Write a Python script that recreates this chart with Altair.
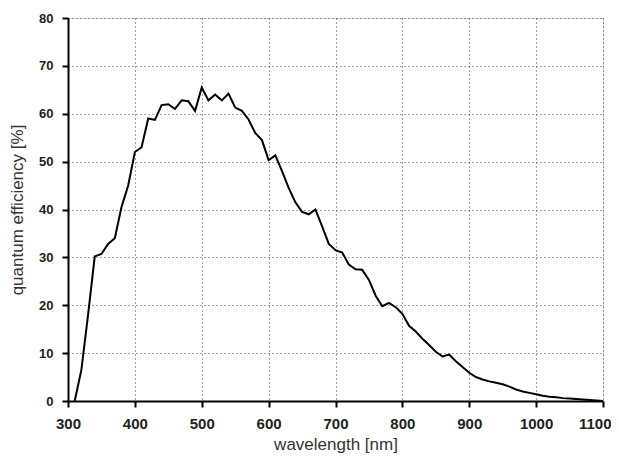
import altair as alt
import pandas as pd

wavelength = list(range(310, 1101, 10))
qe = [0, 6.5, 18, 30.2, 30.7, 32.8, 34, 40.5, 45, 52,
      53, 59, 58.7, 61.8, 62, 61, 62.8, 62.6, 60.6, 65.5,
      62.8, 64, 62.8, 64.2, 61.3, 60.6, 58.8, 56, 54.5, 50.3,
      51.3, 48, 44.5, 41.5, 39.5, 39, 40, 36.5, 32.8, 31.5,
      31, 28.5, 27.5, 27.4, 25.3, 22, 19.8, 20.5, 19.6, 18.2,
      15.7, 14.5, 13, 11.7, 10.3, 9.3, 9.7, 8.3, 7.1, 5.9,
      5.0, 4.5, 4.1, 3.8, 3.5, 3.0, 2.4, 2.0, 1.7, 1.4,
      1.1, 0.9, 0.8, 0.6, 0.5, 0.4, 0.3, 0.2, 0.1, 0.0]
x_ticks = list(range(300, 1101, 100))
y_ticks = list(range(0, 81, 10))

df = pd.DataFrame({"wavelength": wavelength, "qe": qe})

font = "Liberation Sans"

common = dict(labelFontWeight="bold", labelFont=font,
              labelColor="#222", titleFont=font,
              titleFontWeight="normal", titleColor="#333",
              tickSize=6, tickWidth=2, tickColor="black",
              domainColor="black", domainWidth=2,
              gridColor="#444", gridDash=[1, 3], gridWidth=1,
              labelFlush=False, format="d")

x_axis = alt.Axis(
    title="wavelength [nm]", values=x_ticks,
    labelFontSize=15, titleFontSize=17, titlePadding=5, labelPadding=9,
    labelAlign={"condition": {"test": "datum.value == 1100", "value": "right"},
                "value": "center"},
    labelOffset={"condition": {"test": "datum.value == 1100", "value": 8},
                 "value": 0},
    **common)

chart = alt.Chart(df).mark_line(color="black", strokeWidth=2).encode(
    x=alt.X("wavelength:Q", scale=alt.Scale(domain=[300, 1100], nice=False),
            axis=x_axis),
    y=alt.Y("qe:Q", scale=alt.Scale(domain=[0, 80], nice=False),
            axis=alt.Axis(title="quantum efficiency [%]", values=y_ticks,
                          labelFontSize=13, titleFontSize=17, titlePadding=12,
                          labelPadding=9, **common)),
).properties(
    width=535, height=383,
    autosize=alt.AutoSizeParams(type="none"),
    padding={"left": 60, "top": 10, "right": 8, "bottom": 54},
).configure_view(stroke=None).configure(background="white")

chart.save("out.html", embed_options={"renderer": "svg", "actions": False})
